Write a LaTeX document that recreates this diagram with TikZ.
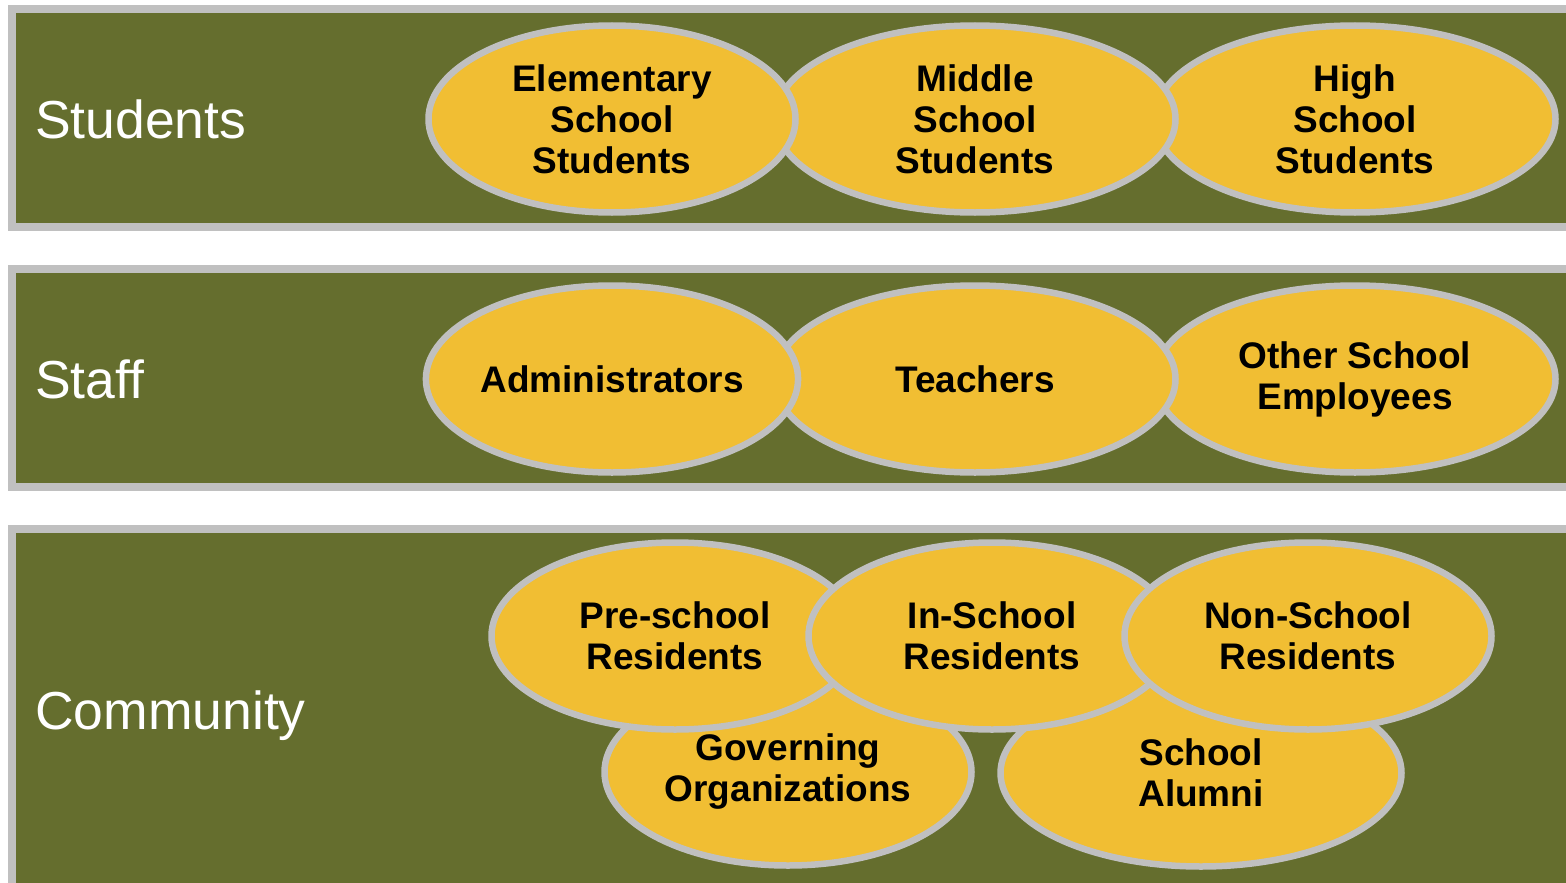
\documentclass[tikz,border=0pt]{standalone}
\usepackage{fontspec}
\setmainfont{Liberation Sans}
\usetikzlibrary{shapes.geometric}
\definecolor{panelgreen}{RGB}{101,110,46}
\definecolor{ovalgold}{RGB}{241,190,51}
\definecolor{rimgray}{RGB}{192,192,192}
\begin{document}
\begin{tikzpicture}[x=1pt,y=-1pt,
  panel/.style={fill=panelgreen,draw=rimgray,line width=8pt},
  grp/.style={text=white,anchor=base west,inner sep=0pt,font=\fontsize{53.5}{60}\selectfont},
  oval/.style={ellipse,fill=ovalgold,draw=rimgray,line width=6.5pt,minimum height=187pt,inner sep=0pt,align=center,font=\bfseries\fontsize{37}{41}\selectfont}]
\useasboundingbox (0,0) rectangle (1566,883);
\clip (0,0) rectangle (1566,883);
\pgfmathsetmacro{\kgap}{260}
\foreach \ky in {0,1}{\draw[panel](12,9+\ky*\kgap) rectangle (1590,227+\ky*\kgap);}
\draw[panel](12,529) rectangle (1590,910);
\node[grp](students) at (35,138){Students};
\node[grp](staff) at (35,398){Staff};
\node[grp](community) at (35,729){Community};
\foreach \nm/\kx/\kw/\txt in {high/1355/401/{High\\School\\Students},middle/975/401/{Middle\\School\\Students},elem/612/367/{Elementary\\School\\Students}}{\node[oval,minimum width=\kw pt](\nm) at (\kx,119){\txt};}
\foreach \nm/\kx/\kw/\txt in {other/1355/401/{Other School\\Employees},teachers/975/401/{Teachers},admins/612/367/{Administrators}}{\node[oval,minimum width=\kw pt](\nm) at (\kx,379){\txt};}
\node[oval,minimum width=367pt](governing) at (788,772){Governing\\Organizations};
\node[oval,minimum width=401pt](alumni) at (1201,773){School\\Alumni};
\foreach \nm/\kx/\txt in {preschool/675/{Pre-school\\Residents},inschool/992/{In-School\\Residents},nonschool/1308/{Non-School\\Residents}}{\node[oval,minimum width=367pt](\nm) at (\kx,636){\txt};}
\end{tikzpicture}
\end{document}
